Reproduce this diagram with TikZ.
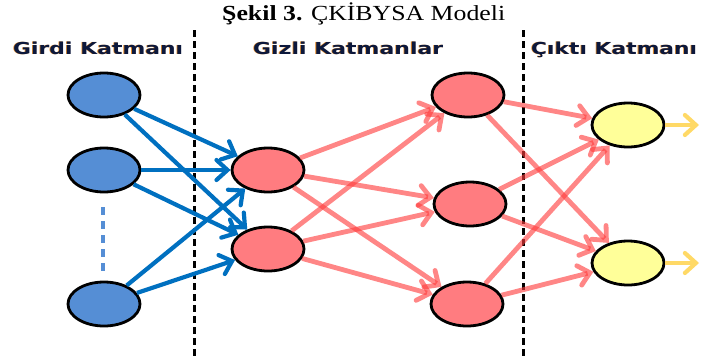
\documentclass[tikz,border=0pt]{standalone}
\usepackage{fontspec}
\setmainfont{Liberation Serif}
\newfontfamily\hdrfont{DejaVu Sans}
\usetikzlibrary{arrows.meta,shapes.geometric}
\definecolor{inblue}{RGB}{85,142,213}
\definecolor{arrblue}{RGB}{0,112,192}
\definecolor{hidred}{RGB}{255,124,128}
\definecolor{linered}{RGB}{255,60,60}
\definecolor{outyel}{RGB}{255,255,153}
\definecolor{outarr}{RGB}{255,217,102}
\definecolor{hdrnavy}{RGB}{12,24,60}
\definecolor{hdrglow}{RGB}{230,140,40}
\newcommand{\hdrtext}[2]{\resizebox{#1}{\height}{\fontsize{16.5}{18}\selectfont\hdrfont\bfseries #2}}
\begin{document}
\begin{tikzpicture}[x=1pt,y=-1pt,
  neuron/.style={ellipse,draw=black,line width=2.8pt,minimum width=72pt,minimum height=44pt,inner sep=0pt},
  inneuron/.style={neuron,fill=inblue},
  hidneuron/.style={neuron,fill=hidred},
  outneuron/.style={neuron,fill=outyel},
  barb/.style={-{Straight Barb[length=11pt,width=20pt,line cap=round]}},
  bluearr/.style={barb,draw=arrblue,line width=4.2pt},
  redarr/.style={barb,draw=linered,line width=4.8pt,draw opacity=0.62},
  yelarr/.style={barb,draw=outarr,line width=4.2pt},
  sepline/.style={draw=black,line width=3pt,dash pattern=on 7pt off 4pt},
  hdr/.style={anchor=base west,inner sep=0pt,text=hdrnavy},
  hdrshadow/.style={anchor=base west,inner sep=0pt,text=hdrglow}
]
\useasboundingbox (0,0) rectangle (701,360);
% title
\node[anchor=base west,inner sep=0pt] (title) at (222,20) {\resizebox{283pt}{\height}{\fontsize{21.5}{24}\selectfont\textbf{Şekil 3.} ÇKİBYSA Modeli}};
% headers (glow + text)
\node[hdrshadow] (h1s) at (12.2,54.8) {\hdrtext{170pt}{Girdi Katmanı}};
\node[hdr] (h1) at (13,54) {\hdrtext{170pt}{Girdi Katmanı}};
\node[hdrshadow] (h2s) at (252.2,54.8) {\hdrtext{190pt}{Gizli Katmanlar}};
\node[hdr] (h2) at (253,54) {\hdrtext{190pt}{Gizli Katmanlar}};
\node[hdrshadow] (h3s) at (530.2,54.8) {\hdrtext{166pt}{Çıktı Katmanı}};
\node[hdr] (h3) at (531,54) {\hdrtext{166pt}{Çıktı Katmanı}};
% separators
\coordinate (s1t) at (194,30); \coordinate (s1b) at (194,356);
\coordinate (s2t) at (523,30); \coordinate (s2b) at (523,356);
\draw[sepline] (s1t) -- (s1b);
\draw[sepline] (s2t) -- (s2b);
% nodes
\node[inneuron] (I1) at (104,95) {};
\node[inneuron] (I2) at (104,170) {};
\node[inneuron] (I3) at (104,304) {};
\node[hidneuron] (A) at (268,170) {};
\node[hidneuron] (B) at (268,249) {};
\node[hidneuron] (C) at (468,95) {};
\node[hidneuron] (D) at (470,204) {};
\node[hidneuron] (E) at (467,304) {};
\node[outneuron] (F) at (628,125) {};
\node[outneuron] (G) at (628,263) {};
% dots between inputs
\coordinate (dt) at (103,207); \coordinate (db) at (103,272);
\draw[draw=inblue,line width=3.2pt,dash pattern=on 8pt off 6pt] (dt) -- (db);
% connections
\foreach \s in {I1,I2,I3}{\foreach \t in {A,B}{\draw[bluearr] (\s) -- (\t);}}
\foreach \s in {A,B}{\foreach \t in {C,D,E}{\draw[redarr] (\s) -- (\t);}}
\foreach \s in {C,D,E}{\foreach \t in {F,G}{\draw[redarr] (\s) -- (\t);}}
\coordinate (fo) at (699,125); \coordinate (go) at (699,263);
\draw[yelarr] (F) -- (fo);
\draw[yelarr] (G) -- (go);
\end{tikzpicture}
\end{document}
